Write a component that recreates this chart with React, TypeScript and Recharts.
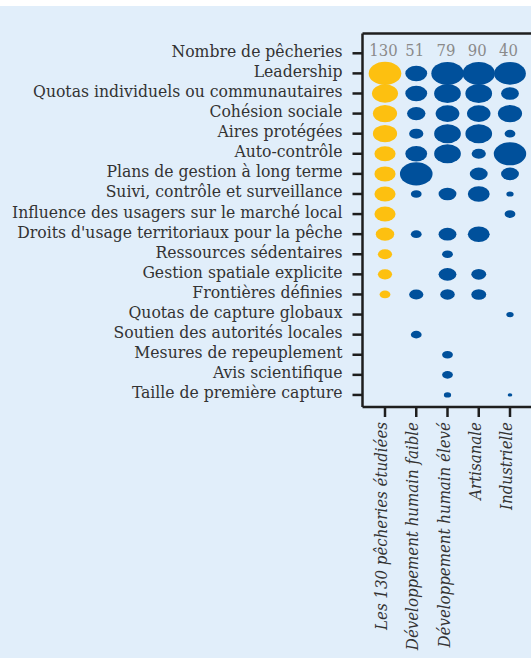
import React from 'react';
import { ScatterChart, Scatter, XAxis, YAxis, ReferenceLine } from 'recharts';

const rowLabels = [
  'Nombre de pêcheries',
  'Leadership',
  'Quotas individuels ou communautaires',
  'Cohésion sociale',
  'Aires protégées',
  'Auto-contrôle',
  'Plans de gestion à long terme',
  'Suivi, contrôle et surveillance',
  'Influence des usagers sur le marché local',
  "Droits d'usage territoriaux pour la pêche",
  'Ressources sédentaires',
  'Gestion spatiale explicite',
  'Frontières définies',
  'Quotas de capture globaux',
  'Soutien des autorités locales',
  'Mesures de repeuplement ',
  'Avis scientifique',
  'Taille de première capture',
];

const groups = [
  'Les 130 pêcheries étudiées',
  'Développement humain faible',
  'Développement humain élevé',
  'Artisanale',
  'Industrielle',
];

const fisheryCounts = [130, 51, 79, 90, 40];

// relative bubble size per attribute (Leadership ... Taille), null = not present
const allFisheries = [100, 64, 55, 55, 42, 42, 42, 42, 32, 19, 19, 11, null, null, null, null, null];
const lowHdi = [45, 45, 32, 19, 45, 100, 11, null, 11, null, null, 19, null, 11, null, null, null];
const highHdi = [99, 67, 53, 67, 67, null, 30, null, 30, 11, 30, 20, null, null, 11, 11, 5];
const artisanal = [99, 67, 52, 67, 19, 30, 45, null, 45, null, 21, 21, null, null, null, null, null];
const industrial = [95, 30, 55, 11, 99, 30, 5, 11, null, null, null, null, 5, null, null, null, 2];

const YELLOW = '#fdc010';
const BLUE = '#00509b';
const INK = '#333333';
const AXIS = '#1e1e1e';
const BG = '#e1eefa';
const FONT = '"DejaVu Serif Condensed", "DejaVu Serif", serif';

const toPoints = (values: (number | null)[], col: number) =>
  values
    .map((z, i) => ({ x: col, y: i + 1, z }))
    .filter((p) => p.z !== null);

const yellowData = toPoints(allFisheries, 0);
const blueData = [
  ...toPoints(lowHdi, 1),
  ...toPoints(highHdi, 2),
  ...toPoints(artisanal, 3),
  ...toPoints(industrial, 4),
];
const countData = fisheryCounts.map((n, i) => ({ x: i, y: 0, n }));

const bubble = (color: string) => (props: any) => {
  const { cx, cy, payload } = props;
  const rx = 16.3 * Math.sqrt(payload.z / 100);
  return <ellipse cx={cx} cy={cy} rx={rx} ry={rx * 0.71} fill={color} />;
};

const countLabel = (props: any) => (
  <text
    x={props.cx - 1.5}
    y={props.cy + 3}
    textAnchor="middle"
    fontFamily={FONT}
    fontSize={16.5}
    fill="#8a8a8a"
  >
    {props.payload.n}
  </text>
);

const RowTick = (props: any) => (
  <text
    x={props.x}
    y={props.y + 3.5}
    textAnchor="end"
    fontFamily={FONT}
    fontSize={17.4}
    fill={INK}
  >
    {rowLabels[props.payload.value]}
  </text>
);

const GroupTick = (props: any) => {
  const x = props.x + 2;
  const y = props.y + 3;
  return (
    <text
      x={x}
      y={y}
      transform={`rotate(-90 ${x} ${y})`}
      textAnchor="end"
      fontFamily={FONT}
      fontStyle="italic"
      fontSize={16.7}
      fill={INK}
    >
      {groups[props.payload.value]}
    </text>
  );
};

const rowTicks = rowLabels.map((_, i) => i);
const colTicks = groups.map((_, i) => i);
const lineStyle = { stroke: AXIS, strokeWidth: 2.5 };

export default function App() {
  return (
    <div style={{ position: 'fixed', left: 0, top: 0, width: 531, height: 658, background: '#fff' }}>
      <div style={{ position: 'absolute', left: 0, top: 6, width: 531, height: 652, background: BG }}>
        <ScatterChart width={531} height={652} margin={{ top: 27.5, right: 0, bottom: 0, left: 0 }}>
          <XAxis
            type="number"
            dataKey="x"
            domain={[-0.72, 4.672]}
            ticks={colTicks}
            interval={0}
            height={251}
            tickSize={10}
            tickMargin={2}
            axisLine={lineStyle}
            tickLine={lineStyle}
            tick={<GroupTick />}
            allowDataOverflow
          />
          <YAxis
            type="number"
            dataKey="y"
            domain={[-0.985, 17.6]}
            reversed
            ticks={rowTicks}
            interval={0}
            width={362.5}
            tickSize={10}
            tickMargin={10}
            axisLine={lineStyle}
            tickLine={lineStyle}
            tick={<RowTick />}
            allowDataOverflow
          />
          <ReferenceLine y={-0.985} stroke={AXIS} strokeWidth={2.5} />
          <Scatter data={countData} shape={countLabel} isAnimationActive={false} />
          <Scatter data={yellowData} shape={bubble(YELLOW)} isAnimationActive={false} />
          <Scatter data={blueData} shape={bubble(BLUE)} isAnimationActive={false} />
        </ScatterChart>
      </div>
    </div>
  );
}
